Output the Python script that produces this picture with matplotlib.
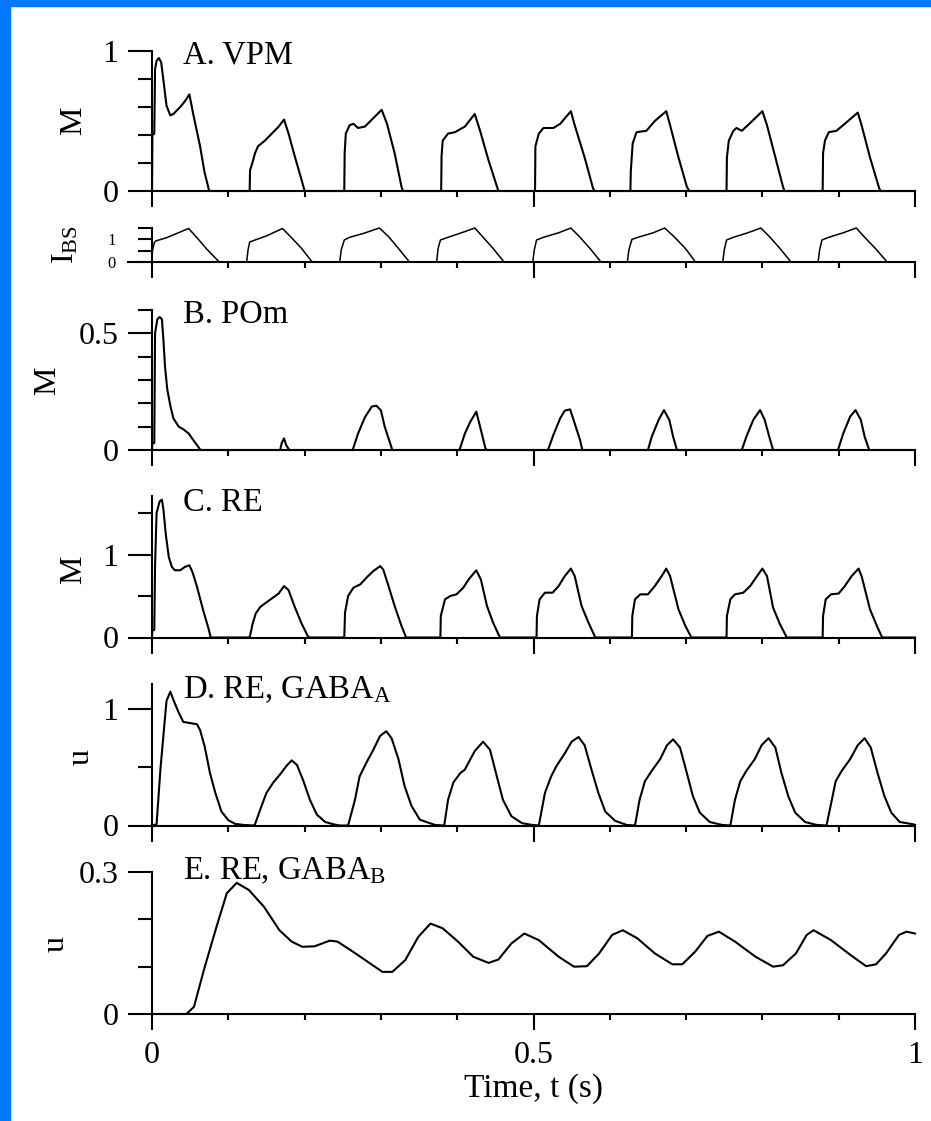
import numpy as np
import matplotlib.pyplot as plt
from matplotlib.patches import Rectangle

plt.rcParams['font.family'] = ['Liberation Serif', 'DejaVu Serif']
plt.rcParams['mathtext.fontset'] = 'custom'
plt.rcParams['mathtext.rm'] = 'Liberation Serif'
plt.rcParams['mathtext.it'] = 'Liberation Serif:italic'

# ---- traces (time in s) ----
# A. VPM firing rate
vpm_t = [0, 0.0005, 0.003, 0.004, 0.006, 0.009, 0.012, 0.015, 0.019, 0.024, 0.028, 0.037, 0.043, 0.049, 0.054, 0.063, 0.069, 0.075,
         0.128, 0.1285, 0.131, 0.135, 0.139, 0.148, 0.157, 0.166, 0.173, 0.179, 0.187, 0.196, 0.200,
         0.252, 0.2525, 0.254, 0.259, 0.264, 0.270, 0.279, 0.290, 0.301, 0.308, 0.318, 0.327, 0.329,
         0.379, 0.3795, 0.381, 0.388, 0.397, 0.410, 0.423, 0.430, 0.441, 0.454,
         0.502, 0.5025, 0.507, 0.513, 0.526, 0.535, 0.549, 0.554, 0.567, 0.578, 0.580,
         0.627, 0.6275, 0.630, 0.635, 0.648, 0.659, 0.674, 0.679, 0.690, 0.701, 0.704,
         0.753, 0.7535, 0.756, 0.762, 0.766, 0.773, 0.781, 0.800, 0.806, 0.817, 0.827, 0.829,
         0.879, 0.8795, 0.882, 0.887, 0.897, 0.908, 0.925, 0.930, 0.941, 0.953, 0.955, 1.0]
vpm_m = [0, 0.40, 0.41, 0.87, 0.93, 0.95, 0.92, 0.79, 0.61, 0.54, 0.55, 0.60, 0.64, 0.69, 0.55, 0.32, 0.13, 0,
         0, 0.15, 0.19, 0.27, 0.32, 0.36, 0.41, 0.46, 0.51, 0.41, 0.25, 0.08, 0,
         0, 0.27, 0.41, 0.47, 0.48, 0.45, 0.46, 0.52, 0.58, 0.48, 0.27, 0.03, 0,
         0, 0.25, 0.36, 0.41, 0.42, 0.46, 0.55, 0.43, 0.22, 0,
         0, 0.32, 0.41, 0.45, 0.45, 0.48, 0.57, 0.47, 0.24, 0.02, 0,
         0, 0.14, 0.34, 0.42, 0.43, 0.50, 0.57, 0.47, 0.24, 0.03, 0,
         0, 0.24, 0.36, 0.43, 0.45, 0.43, 0.47, 0.57, 0.47, 0.24, 0.03, 0,
         0, 0.27, 0.36, 0.42, 0.43, 0.48, 0.56, 0.47, 0.24, 0.02, 0, 0]

# brainstem input current
ibs_t = [0, 0.0005, 0.003, 0.005, 0.019, 0.048, 0.059, 0.072, 0.087, 0.088,
         0.124, 0.126, 0.128, 0.135, 0.150, 0.171, 0.183, 0.196, 0.209, 0.211,
         0.246, 0.248, 0.252, 0.259, 0.277, 0.298, 0.310, 0.323, 0.336, 0.337,
         0.373, 0.375, 0.378, 0.388, 0.410, 0.423, 0.434, 0.447, 0.460, 0.461,
         0.499, 0.501, 0.504, 0.513, 0.533, 0.549, 0.561, 0.574, 0.587, 0.588,
         0.623, 0.625, 0.629, 0.637, 0.657, 0.672, 0.685, 0.699, 0.711, 0.712,
         0.748, 0.750, 0.753, 0.762, 0.781, 0.798, 0.810, 0.823, 0.836, 0.837,
         0.873, 0.875, 0.878, 0.887, 0.906, 0.923, 0.934, 0.948, 0.962, 0.963, 1.0]
ibs_v = [0, 0.49, 0.85, 0.93, 1.07, 1.48, 1.07, 0.56, 0.04, 0,
         0, 0.56, 0.88, 0.97, 1.15, 1.48, 1.07, 0.60, 0.04, 0,
         0, 0.53, 0.97, 1.09, 1.26, 1.50, 1.12, 0.60, 0.06, 0,
         0, 0.60, 0.97, 1.09, 1.34, 1.50, 1.09, 0.60, 0.06, 0,
         0, 0.53, 0.97, 1.09, 1.29, 1.50, 1.09, 0.60, 0.06, 0,
         0, 0.53, 1.00, 1.09, 1.29, 1.50, 1.09, 0.60, 0.06, 0,
         0, 0.53, 0.97, 1.09, 1.29, 1.50, 1.09, 0.60, 0.06, 0,
         0, 0.53, 0.97, 1.09, 1.29, 1.50, 1.09, 0.60, 0.06, 0, 0]

# B. POm firing rate
pom_t = [0, 0.0005, 0.003, 0.004, 0.007, 0.010, 0.013, 0.015, 0.017, 0.020, 0.024, 0.028, 0.035, 0.041, 0.048, 0.054, 0.063, 0.065,
         0.168, 0.170, 0.173, 0.176, 0.180,
         0.263, 0.270, 0.279, 0.288, 0.294, 0.300, 0.305, 0.312, 0.315,
         0.403, 0.410, 0.417, 0.425, 0.430, 0.437, 0.439,
         0.519, 0.526, 0.535, 0.541, 0.548, 0.554, 0.561, 0.564,
         0.650, 0.655, 0.664, 0.671, 0.678, 0.683, 0.688,
         0.773, 0.779, 0.788, 0.797, 0.803, 0.809, 0.814,
         0.899, 0.906, 0.915, 0.922, 0.929, 0.934, 0.940, 1.0]
pom_m = [0, 0.03, 0.03, 0.50, 0.56, 0.57, 0.56, 0.47, 0.36, 0.26, 0.19, 0.136, 0.10, 0.089, 0.071, 0.043, 0.003, 0,
         0, 0.03, 0.05, 0.02, 0,
         0, 0.07, 0.14, 0.186, 0.19, 0.17, 0.10, 0.03, 0,
         0, 0.07, 0.12, 0.164, 0.10, 0.007, 0,
         0, 0.064, 0.136, 0.169, 0.174, 0.114, 0.043, 0,
         0, 0.057, 0.129, 0.171, 0.129, 0.057, 0,
         0, 0.057, 0.129, 0.171, 0.129, 0.057, 0,
         0, 0.071, 0.143, 0.171, 0.129, 0.057, 0, 0]

# C. RE firing rate
re_t = [0, 0.0005, 0.003, 0.004, 0.006, 0.010, 0.013, 0.015, 0.018, 0.022, 0.026, 0.030, 0.037, 0.043, 0.049, 0.053, 0.059, 0.067, 0.074, 0.077,
        0.128, 0.132, 0.136, 0.142, 0.148, 0.157, 0.166, 0.173, 0.179, 0.187, 0.196, 0.204, 0.206,
        0.252, 0.253, 0.257, 0.264, 0.273, 0.281, 0.290, 0.299, 0.303, 0.310, 0.318, 0.327, 0.333,
        0.378, 0.3785, 0.384, 0.391, 0.399, 0.408, 0.415, 0.425, 0.431, 0.439, 0.447, 0.456,
        0.504, 0.5045, 0.508, 0.515, 0.525, 0.533, 0.541, 0.549, 0.554, 0.563, 0.572, 0.581,
        0.629, 0.6295, 0.633, 0.640, 0.650, 0.659, 0.668, 0.674, 0.679, 0.690, 0.699, 0.707,
        0.753, 0.7535, 0.758, 0.764, 0.775, 0.784, 0.793, 0.800, 0.806, 0.814, 0.823, 0.832,
        0.879, 0.8795, 0.883, 0.890, 0.900, 0.908, 0.917, 0.926, 0.930, 0.941, 0.950, 0.957, 1.0]
re_m = [0, 0.09, 0.09, 0.87, 1.50, 1.64, 1.66, 1.54, 1.25, 0.97, 0.85, 0.81, 0.81, 0.85, 0.87, 0.79, 0.61, 0.33, 0.11, 0,
        0, 0.17, 0.29, 0.37, 0.41, 0.47, 0.53, 0.62, 0.57, 0.37, 0.17, 0.02, 0,
        0, 0.30, 0.50, 0.60, 0.64, 0.72, 0.80, 0.86, 0.82, 0.62, 0.38, 0.14, 0,
        0, 0.26, 0.46, 0.50, 0.52, 0.60, 0.70, 0.81, 0.70, 0.38, 0.18, 0,
        0, 0.26, 0.46, 0.54, 0.54, 0.62, 0.74, 0.83, 0.74, 0.38, 0.18, 0,
        0, 0.26, 0.46, 0.52, 0.52, 0.62, 0.74, 0.83, 0.74, 0.34, 0.14, 0,
        0, 0.26, 0.46, 0.52, 0.54, 0.62, 0.74, 0.83, 0.74, 0.36, 0.16, 0,
        0, 0.26, 0.46, 0.52, 0.53, 0.62, 0.74, 0.83, 0.74, 0.34, 0.14, 0, 0]

# D. RE -> GABA_A synaptic activation
gabaa_t = [0, 0.006, 0.011, 0.016, 0.019, 0.024, 0.028, 0.035, 0.041, 0.050, 0.059, 0.063, 0.069, 0.076, 0.083, 0.091, 0.100, 0.109, 0.120, 0.133,
           0.135, 0.142, 0.150, 0.159, 0.168, 0.176, 0.183, 0.190, 0.198, 0.207, 0.216, 0.227, 0.238, 0.246,
           0.257, 0.266, 0.272, 0.281, 0.290, 0.299, 0.307, 0.314, 0.323, 0.331, 0.340, 0.351, 0.364, 0.371, 0.383,
           0.388, 0.395, 0.404, 0.410, 0.423, 0.434, 0.443, 0.452, 0.460, 0.471, 0.485, 0.498, 0.507,
           0.515, 0.523, 0.530, 0.541, 0.550, 0.559, 0.567, 0.576, 0.585, 0.594, 0.607, 0.622, 0.633,
           0.639, 0.646, 0.655, 0.666, 0.675, 0.683, 0.692, 0.701, 0.709, 0.718, 0.731, 0.747, 0.758,
           0.764, 0.771, 0.779, 0.790, 0.799, 0.808, 0.817, 0.825, 0.834, 0.843, 0.856, 0.871, 0.884,
           0.891, 0.896, 0.904, 0.915, 0.925, 0.934, 0.942, 0.951, 0.960, 0.969, 0.980, 0.998, 1.0]
gabaa_u = [0, 0.01, 0.48, 0.85, 1.07, 1.15, 1.08, 0.97, 0.89, 0.88, 0.87, 0.82, 0.68, 0.45, 0.28, 0.12, 0.046, 0.014, 0.005, 0,
           0.01, 0.14, 0.28, 0.37, 0.44, 0.51, 0.56, 0.52, 0.39, 0.22, 0.094, 0.03, 0.01, 0,
           0, 0.22, 0.42, 0.54, 0.65, 0.77, 0.81, 0.75, 0.57, 0.34, 0.17, 0.05, 0.02, 0.005, 0,
           0.22, 0.37, 0.45, 0.48, 0.64, 0.72, 0.65, 0.42, 0.22, 0.08, 0.02, 0.005, 0,
           0.28, 0.42, 0.51, 0.62, 0.72, 0.76, 0.69, 0.48, 0.28, 0.12, 0.04, 0.005, 0,
           0.22, 0.38, 0.47, 0.57, 0.69, 0.74, 0.67, 0.45, 0.25, 0.11, 0.03, 0.005, 0,
           0.22, 0.38, 0.47, 0.57, 0.69, 0.75, 0.67, 0.45, 0.25, 0.11, 0.03, 0.005, 0,
           0.22, 0.38, 0.47, 0.57, 0.69, 0.75, 0.67, 0.45, 0.25, 0.11, 0.03, 0.01, 0.005]

# E. RE -> GABA_B synaptic activation
gabab_t = [0, 0.045, 0.055, 0.068, 0.0845, 0.098, 0.111, 0.127, 0.147, 0.167, 0.183, 0.197, 0.213, 0.233, 0.243,
           0.263, 0.283, 0.302, 0.315, 0.332, 0.349, 0.365, 0.381, 0.401, 0.421, 0.441, 0.454, 0.471, 0.488, 0.507,
           0.533, 0.553, 0.570, 0.586, 0.603, 0.617, 0.636, 0.659, 0.682, 0.695, 0.712, 0.728, 0.743, 0.764, 0.791,
           0.814, 0.827, 0.844, 0.858, 0.867, 0.890, 0.916, 0.936, 0.949, 0.962, 0.979, 0.989, 1.0]
gabab_u = [0, 0, 0.015, 0.093, 0.184, 0.255, 0.277, 0.262, 0.226, 0.177, 0.153, 0.142, 0.143, 0.155, 0.153,
           0.132, 0.110, 0.089, 0.089, 0.114, 0.163, 0.191, 0.181, 0.153, 0.121, 0.108, 0.115, 0.149, 0.170, 0.156,
           0.121, 0.100, 0.101, 0.128, 0.167, 0.177, 0.160, 0.128, 0.105, 0.105, 0.132, 0.165, 0.174, 0.153, 0.121,
           0.100, 0.103, 0.128, 0.167, 0.177, 0.156, 0.124, 0.101, 0.105, 0.128, 0.167, 0.174, 0.170]

# ---- figure ----
W, H = 931, 1121
fig = plt.figure(figsize=(W / 100, H / 100), dpi=100)
blue = '#0078ff'
fig.patches.append(Rectangle((0, 0), 10 / W, 1, transform=fig.transFigure, color=blue, zorder=-5))
fig.patches.append(Rectangle((0, 1 - 6 / H), 1, 6 / H, transform=fig.transFigure, color=blue, zorder=-5))

X0, X1 = 152, 915   # pixel extent of the time axis
FS = 23


def fx(px):
    return px / W


def fy(py):
    return 1 - py / H


def panel(top, bottom, ymax, major, minor, labels, lab_fs=FS, lab_pad=7, long_major=True):
    ax = fig.add_axes([fx(X0), fy(bottom), (X1 - X0) / W, (bottom - top) / H])
    ax.set_xlim(0, 1)
    ax.set_ylim(0, ymax)
    for s in ('top', 'right'):
        ax.spines[s].set_visible(False)
    for s in ('left', 'bottom'):
        ax.spines[s].set_linewidth(1.5)
    ax.set_xticks([0, 0.5, 1])
    ax.set_xticks(np.arange(0.1, 1.0, 0.1), minor=True)
    ax.tick_params(axis='x', which='major', direction='out', length=11.5, width=1.5, labelbottom=False)
    ax.tick_params(axis='x', which='minor', direction='out', length=4.3, width=1.5)
    ax.set_yticks(major)
    ax.set_yticklabels(labels)
    ax.set_yticks(minor, minor=True)
    ax.tick_params(axis='y', which='major', direction='out', length=17.3 if long_major else 10,
                   width=1.5, labelsize=lab_fs, pad=lab_pad)
    ax.tick_params(axis='y', which='minor', direction='out', length=10, width=1.5)
    return ax


ax_a = panel(51, 191, 1.0, [0, 1], [0.2, 0.4, 0.6, 0.8], ['0', '1'])
ax_a.plot(vpm_t, vpm_m, color='black', lw=1.5, clip_on=False)

ax_i = panel(228, 262, 1.5, [0, 1], [0.5, 1.5], ['0', '1'], lab_fs=12, lab_pad=16, long_major=False)
ax_i.plot([-24 / (X1 - X0), 0], [0, 0], color='black', lw=1.5, transform=ax_i.get_yaxis_transform(), clip_on=False)
ax_i.plot(ibs_t, ibs_v, color='black', lw=1.1, clip_on=False)

ax_b = panel(310, 450, 0.6, [0, 0.5], [0.1, 0.2, 0.3, 0.4, 0.6], ['0', '0.5'])
ax_b.plot(pom_t, pom_m, color='black', lw=1.5, clip_on=False)

ax_c = panel(496.4, 637.5, 1.7, [0, 1], [0.5, 1.5], ['0', '1'])
ax_c.plot(re_t, re_m, color='black', lw=1.5, clip_on=False)

ax_d = panel(683.5, 825.5, 1.22, [0, 1], [0.5], ['0', '1'])
ax_d.plot(gabaa_t, gabaa_u, color='black', lw=1.5, clip_on=False)

ax_e = panel(872, 1014, 0.3, [0, 0.3], [0.1, 0.2], ['0', '0.3'])
ax_e.plot(gabab_t, gabab_u, color='black', lw=1.5, clip_on=False)
ax_e.set_xticklabels(['0', '0.5', '1'])
ax_e.tick_params(axis='x', which='major', labelbottom=True, labelsize=FS, pad=8)
ax_e.set_xlabel('Time, t (s)', fontsize=24, labelpad=2)

# panel titles
titles = [('A. VPM', 64), ('B. POm', 323), ('C. RE', 511),
          (r'D. RE, GABA$_\mathrm{A}$', 698), (r'E. RE, GABA$_\mathrm{B}$', 879)]
for txt, base in titles:
    fig.text(fx(183), fy(base), txt, fontsize=23.5, ha='left', va='baseline')

# y-axis labels
ylabels = [('M', 74, 121), (r'I$_\mathrm{BS}$', 66, 245), ('M', 48, 381),
           ('M', 74, 570), ('u', 81, 757), ('u', 56, 944)]
for txt, x, y in ylabels:
    fig.text(fx(x), fy(y), txt, fontsize=FS, rotation=90, ha='center', va='center')

fig.savefig('out.png', dpi=100, facecolor='white')
